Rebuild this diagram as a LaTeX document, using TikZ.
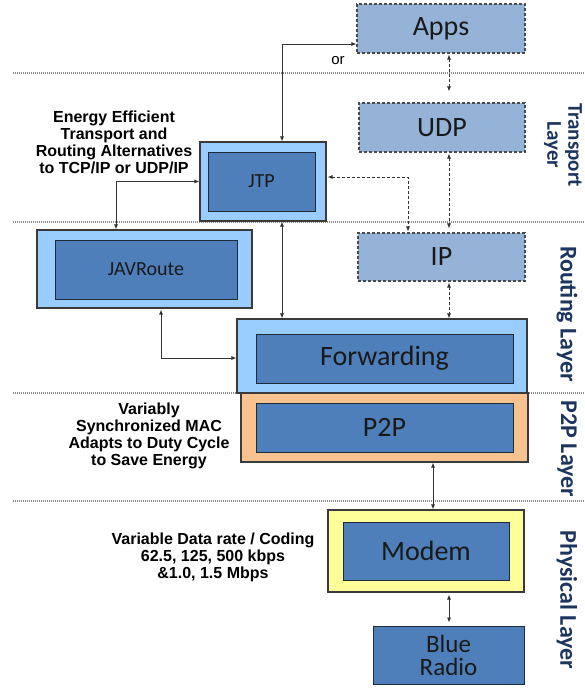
\documentclass[tikz,border=0pt]{standalone}
\usepackage{fontspec}
\setmainfont{Liberation Sans}
\newfontfamily\boxfont{Carlito}
\usetikzlibrary{arrows.meta}

\definecolor{optfill}{HTML}{95B3D7}
\definecolor{optline}{HTML}{4A4A4A}
\definecolor{corefill}{HTML}{4F7FBA}
\definecolor{coreline}{HTML}{1F2A3A}
\definecolor{shellblue}{HTML}{99CCFF}
\definecolor{shellorange}{HTML}{FAC28F}
\definecolor{shellyellow}{HTML}{FFFF99}
\definecolor{shellline}{HTML}{3A3A3A}
\definecolor{linkgrey}{HTML}{333333}
\definecolor{sepgrey}{HTML}{8A8A8A}
\definecolor{navy}{HTML}{1C355E}

\begin{document}
\begin{tikzpicture}[x=1pt,y=-1pt,
  layerline/.style={draw=sepgrey, line width=1.2pt, dash pattern=on 1pt off 1pt},
  optbox/.style={draw=optline, fill=optfill, line width=1.1pt,
    dash pattern=on 3pt off 2pt, inner sep=0pt, text=black!90,
    font=\boxfont\fontsize{28}{30}\selectfont},
  shell/.style={draw=shellline, line width=1.2pt, inner sep=0pt},
  corebox/.style={draw=coreline, fill=corefill, line width=1pt, inner sep=0pt,
    text=black!90, align=center},
  bigtext/.style={font=\boxfont\fontsize{28}{30}\selectfont},
  smalltext/.style={font=\boxfont\fontsize{20}{22}\selectfont},
  tip/.tip={Latex[length=5pt,width=4.2pt]},
  link/.style={draw=linkgrey, line width=0.9pt, tip-tip},
  optlink/.style={link, dash pattern=on 3pt off 2pt},
  note/.style={font=\bfseries\fontsize{16}{17}\selectfont, align=center, inner sep=0pt},
  layerlabel/.style={font=\boxfont\bfseries\fontsize{24}{24}\selectfont,
    text=navy, rotate=-90, align=center, inner sep=0pt}
]
\useasboundingbox (0,0) rectangle (584,688);

% layer separators
\draw[layerline] (13,73) -- (584,73);
\draw[layerline] (13,222) -- (584,222);
\draw[layerline] (13,393) -- (584,393);
\draw[layerline] (13,501) -- (584,501);

% optional IP stack (dashed)
\node[optbox, minimum width=168pt, minimum height=49pt] (apps) at (441,28.5) {Apps};
\node[optbox, minimum width=166pt, minimum height=49pt] (udp) at (442,127.5) {UDP};
\node[optbox, minimum width=167pt, minimum height=48pt] (ip) at (441.5,257) {IP};

% transport
\node[shell, fill=shellblue, minimum width=126pt, minimum height=79pt] (jtpo) at (263,181.5) {};
\node[corebox, smalltext, minimum width=107pt, minimum height=59pt] (jtp) at (261.5,181.5) {JTP};

% routing
\node[shell, fill=shellblue, minimum width=215pt, minimum height=78pt] (javo) at (144.5,269) {};
\node[corebox, smalltext, minimum width=182pt, minimum height=59pt] (jav) at (146,269.5) {JAVRoute};

\node[shell, fill=shellblue, minimum width=290pt, minimum height=74pt] (fwdo) at (382,356) {};
\node[corebox, bigtext, minimum width=257pt, minimum height=49pt] (fwd) at (384.5,358.5) {Forwarding};

% P2P
\node[shell, fill=shellorange, minimum width=287pt, minimum height=69pt] (p2po) at (384.5,427.5) {};
\node[corebox, bigtext, minimum width=257pt, minimum height=49pt] (p2p) at (384.5,427.5) {P2P};

% physical
\node[shell, fill=shellyellow, minimum width=196pt, minimum height=82pt] (modo) at (426,551) {};
\node[corebox, bigtext, minimum width=166pt, minimum height=58pt] (modem) at (426,551) {Modem};
\node[corebox, font=\boxfont\fontsize{25}{23}\selectfont, minimum width=151pt, minimum height=58pt] (radio) at (448.5,655) {Blue\\Radio};

% layer names
\node[layerlabel, font=\boxfont\bfseries\fontsize{21}{21}\selectfont] (ltrans) at (563,145) {Transport\\Layer};
\node[layerlabel] (lrout) at (567,314) {Routing Layer};
\node[layerlabel] (lp2p) at (567,449) {P2P Layer};
\node[layerlabel] (lphy) at (567,600) {Physical Layer};

% annotations
\node[note] (n1) at (114,142.5) {Energy Efficient\\Transport and\\Routing Alternatives\\to TCP/IP or UDP/IP};
\node[note] (n2) at (149,436) {Variably\\Synchronized MAC\\Adapts to Duty Cycle\\to Save Energy};
\node[note] (n3) at (213,557) {Variable Data rate / Coding\\62.5, 125, 500 kbps\\\&1.0, 1.5 Mbps};
\node[font=\fontsize{15}{16}\selectfont, inner sep=0pt] (or) at (338,61) {or};

% connector columns
\coordinate (cj) at (282,0);
\coordinate (cr) at (449,0);
\coordinate (ci) at (408,0);
\coordinate (ca) at (116,0);
\coordinate (cb) at (161,0);
\coordinate (cm) at (433,0);

% connectors
\draw[link] (jtpo.north -| cj) |- ([yshift=-15.5pt]apps.west);
\draw[optlink, shorten <=1pt, shorten >=11pt] (apps.south -| cr) -- (udp.north -| cr);
\draw[optlink, shorten <=1pt, shorten >=4pt] (udp.south -| cr) -- (ip.north -| cr);
\draw[optlink, shorten <=1pt, shorten >=1pt] ([yshift=4.5pt]jtpo.east) -| (ip.north -| ci);
\draw[optlink, shorten <=1pt] (ip.south -| cr) -- (fwdo.north -| cr);
\draw[link] (jtpo.south -| cj) -- (fwdo.north -| cj);
\draw[link] (jtpo.west) -| (javo.north -| ca);
\draw[link, shorten <=1pt] (javo.south -| cb) |- ([yshift=-2pt]fwdo.west);
\draw[link] (p2po.south -| cm) -- (modo.north -| cm);
\draw[link, shorten <=2pt, shorten >=3pt] (modo.south -| cr) -- (radio.north -| cr);
\end{tikzpicture}
\end{document}
